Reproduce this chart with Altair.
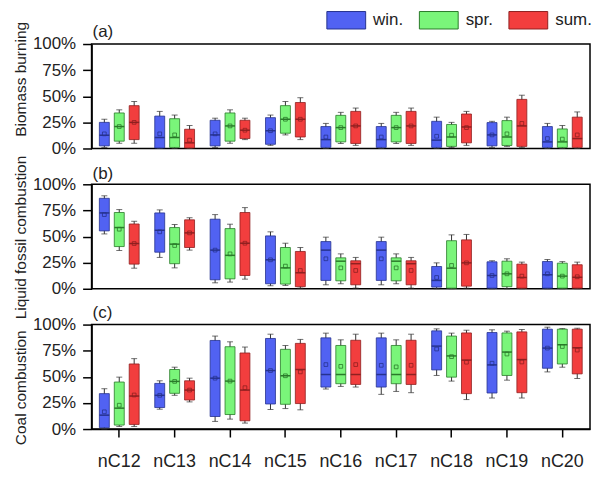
import altair as alt
import pandas as pd

categories = ["nC12", "nC13", "nC14", "nC15", "nC16", "nC17", "nC18", "nC19", "nC20"]
seasons = ["win.", "spr.", "sum."]
fill_colors = ["#5162F2", "#7AF57A", "#F23E3E"]
edge_colors = ["#26328F", "#2A7A2A", "#8F2020"]

# ---- (a) Biomass burning ----
bio_win = dict(lo=[1, 0, 1, 3, 0, 0, 0, 1, 0],
               q1=[2.5, 0.5, 2.5, 4, 1, 1, 1, 2.5, 1],
               med=[12.7, 10.5, 13, 17, 8.5, 8.5, 8, 13, 6.3],
               q3=[25, 31, 27, 29.5, 21, 21, 26, 24.8, 21],
               hi=[28, 35.5, 29, 32, 24, 24, 30, 26, 24],
               mean=[14, 14, 14, 17, 11, 11, 11.7, 13, 9.5])
bio_spr = dict(lo=[5, 0, 5, 13, 4.8, 4.8, 1, 2, 0],
               q1=[7, 1, 7, 14.6, 6.3, 6.3, 2, 2.9, 1],
               med=[21, 10.5, 21.6, 28, 20, 20, 11, 11, 6.3],
               q3=[34, 28.5, 34, 41, 31.7, 31.7, 23, 26.7, 18.7],
               hi=[37, 32, 37, 45, 34.6, 34.6, 25, 30, 22],
               mean=[21, 13, 21.6, 28, 20, 20, 12.7, 14, 9])
bio_sum = dict(lo=[5, 0, 8.5, 8.5, 3, 3, 3, 1, 0],
               q1=[8.5, 0.5, 9.5, 11, 4.8, 4.8, 5.4, 2, 1],
               med=[25, 5.4, 17.5, 28, 21.6, 21.6, 20.6, 21.6, 9.5],
               q3=[41, 18.4, 27, 44, 35.5, 35.5, 33, 47, 30],
               hi=[45, 22, 29, 48.6, 38.7, 38.7, 35.5, 51, 35],
               mean=[25, 8, 17.5, 28, 21.6, 21.6, 20, 24, 13])

# ---- (b) Liquid fossil combustion ----
liq_win = dict(lo=[52.5, 30, 5.7, 2.9, 3.8, 3.8, 0, 0, 0],
               q1=[55.4, 35, 8.6, 4.8, 8, 8, 1.6, 0.6, 0.6],
               med=[72.6, 56, 37, 27.7, 37, 37, 8, 12.7, 13.4],
               q3=[86.6, 72.6, 66.6, 50.6, 45.2, 45.2, 21.3, 25.8, 26.1],
               hi=[89, 75.5, 71, 54.5, 49.4, 49.4, 24.8, 26.8, 28],
               mean=[71, 54.5, 37, 27.7, 28.7, 28.7, 10.8, 12.7, 14.3])
liq_spr = dict(lo=[36.6, 20, 6.4, 3.2, 4.8, 4.8, 0, 0, 0],
               q1=[40.4, 24, 9.5, 4.5, 7.6, 7.6, 0.6, 2, 0.6],
               med=[58.6, 42.7, 32, 20, 26.4, 26.4, 19.7, 14.3, 12.1],
               q3=[73, 58.6, 57.6, 39.5, 29.6, 29.6, 46, 26.4, 24.5],
               hi=[75.8, 61.5, 61.8, 43.6, 33.4, 33.4, 51.6, 28.7, 26],
               mean=[57, 41.4, 33.4, 21.7, 20, 20, 22.3, 14.3, 12.1])
liq_sum = dict(lo=[19.7, 37, 9.2, 0.6, 0.6, 0.6, 0.6, 0, 0],
               q1=[23.6, 39.5, 12.7, 2, 3.8, 3.8, 2.5, 0.6, 0.6],
               med=[43.3, 53.5, 43.6, 15.3, 24, 24, 24.8, 10.8, 11],
               q3=[62, 66, 73, 35.7, 26.8, 26.8, 46.8, 23.6, 23],
               hi=[64.6, 68, 77.7, 39.5, 30, 30, 52, 25.5, 25.5],
               mean=[43.3, 53.5, 43.6, 17.5, 17.5, 17.5, 24.8, 12.1, 11.5])

# ---- (c) Coal combustion ----
coal_win = dict(lo=[0, 19, 7.3, 18.7, 38.3, 33.2, 51.3, 29.7, 54.7],
                q1=[1.3, 20.6, 12, 24, 40.2, 40.2, 56.6, 34.5, 58.2],
                med=[13.3, 32.3, 48.7, 56, 52.2, 52.2, 79.4, 61.4, 77.5],
                q3=[33.9, 43.7, 84.8, 86.7, 87.3, 87.3, 94, 92.4, 95.6],
                hi=[38.6, 46.2, 89, 90.8, 91.8, 91.8, 95.9, 95, 97.5],
                mean=[16.5, 32.3, 48.7, 56, 61.7, 61, 76.6, 63, 77.5])
coal_spr = dict(lo=[2.5, 32.3, 9.5, 19.6, 40.8, 36, 45.9, 46.8, 59.2],
                q1=[3.8, 34.2, 13.9, 23.7, 43.4, 43.4, 49.7, 51.3, 62.3],
                med=[20, 45.6, 45.9, 51, 52.2, 52.2, 70, 73.7, 80.7],
                q3=[45, 57, 78.8, 76.3, 80, 80, 89, 92, 95.6],
                hi=[49.7, 59.2, 83.5, 80, 85.4, 85.4, 91.8, 93.7, 96.2],
                mean=[22.8, 45.6, 45.9, 51, 60, 59.5, 69.3, 71.8, 79])
coal_sum = dict(lo=[2.5, 26, 5.7, 18.4, 40.2, 34.8, 28.2, 29.7, 48.4],
                q1=[4.4, 27.8, 7.9, 24.4, 42.7, 42.7, 33.9, 34.8, 52.8],
                med=[31.6, 37.3, 37.3, 57, 52.2, 52.2, 66, 66.5, 77.8],
                q3=[62.3, 46.2, 72.8, 82, 85, 85, 92, 93, 95.6],
                hi=[67.4, 48.7, 78.5, 85.8, 90.8, 90.8, 94.6, 95.3, 96.5],
                mean=[32.6, 37.3, 39.6, 54.7, 61.7, 61, 64, 64.2, 75.6])

y_ticks = [0, 25, 50, 75, 100]
FONT = "Liberation Sans"


def to_frame(groups):
    rows = []
    for season, g in zip(seasons, groups):
        for i, cat in enumerate(categories):
            rows.append(dict(cat=cat, season=season, lo=g["lo"][i], q1=g["q1"][i],
                             med=g["med"][i], q3=g["q3"][i], hi=g["hi"][i], mean=g["mean"][i]))
    return pd.DataFrame(rows)


def panel(groups, letter, ytitle, title_y, title_dy, show_x, show_legend):
    df = to_frame(groups)
    if show_x:
        xaxis = alt.Axis(title=None, labelFontSize=18, labelPadding=16, tickSize=8,
                         labelAngle=0, domain=True)
    else:
        xaxis = None
    yscale = alt.Scale(domain=[0, 100], nice=False, zero=True)
    yaxis = alt.Axis(values=y_ticks, tickCount=5, labelExpr="datum.value + '%'", title=ytitle,
                     titleFontSize=15.5, titleFontWeight="normal", titleY=title_y,
                     titlePadding=4, labelFontSize=17, labelPadding=7, tickSize=9, grid=False,
                     labelOverlap=False, labelFlush=False)

    def Y(field):
        return alt.Y(field, type="quantitative", scale=yscale, axis=yaxis)

    base = alt.Chart(df).encode(
        x=alt.X("cat:N", sort=categories, axis=xaxis,
                scale=alt.Scale(paddingInner=0, paddingOuter=0)),
        xOffset=alt.XOffset("season:N", sort=seasons,
                            scale=alt.Scale(paddingInner=0, paddingOuter=0.356)),
    )
    if show_legend:
        legend = alt.Legend(orient="none", legendX=236, legendY=-44, direction="horizontal",
                            title=None, symbolType="M-1,-0.45L1,-0.45L1,0.45L-1,0.45Z",
                            symbolSize=1521, symbolStrokeColor="#555", symbolStrokeWidth=1,
                            symbolOpacity=1, labelFontSize=17, labelOffset=7,
                            columnPadding=13, labelColor="#222")
    else:
        legend = None
    whisker = base.mark_rule(color="#333", strokeWidth=1).encode(y=Y("lo"), y2="hi:Q")
    cap_hi = base.mark_tick(size=6, thickness=1, color="#333").encode(y=Y("hi"))
    cap_lo = base.mark_tick(size=6, thickness=1, color="#333").encode(y=Y("lo"))
    box = base.mark_bar(size=10, strokeWidth=0.8, opacity=1).encode(
        y=Y("q1"), y2="q3:Q",
        fill=alt.Fill("season:N", sort=seasons,
                      scale=alt.Scale(domain=seasons, range=fill_colors), legend=legend),
        stroke=alt.Stroke("season:N", scale=alt.Scale(domain=seasons, range=edge_colors),
                          legend=None),
    )
    med = base.mark_tick(size=10, thickness=1.5, opacity=1).encode(
        y=Y("med"),
        color=alt.Color("season:N", scale=alt.Scale(domain=seasons, range=edge_colors),
                        legend=None))
    mean = base.mark_point(shape="square", filled=False, size=14, strokeWidth=0.8,
                           opacity=1).encode(
        y=Y("mean"),
        color=alt.Color("season:N", scale=alt.Scale(domain=seasons, range=edge_colors),
                        legend=None))
    return alt.layer(whisker, cap_hi, cap_lo, box, med, mean).properties(
        width=501, height=105,
        title=alt.TitleParams(letter, anchor="start", frame="group", fontSize=17,
                              fontWeight="normal", offset=2, dx=1, dy=title_dy, color="#222"),
    )


pa = panel([bio_win, bio_spr, bio_sum], "(a)", "Biomass burning", 35, 22, False, True)
pb = panel([liq_win, liq_spr, liq_sum], "(b)", "Liquid fossil combustion", 53, 30, False, False)
pc = panel([coal_win, coal_spr, coal_sum], "(c)", "Coal combustion", 63, 8, True, False)

chart = alt.vconcat(pa, pb, pc, spacing=36, bounds="flush").resolve_scale(
    fill="shared", stroke="shared", color="shared").resolve_legend(fill="shared").properties(
    padding={"left": 4, "top": -9, "right": 0, "bottom": 5}
).configure(font=FONT).configure_view(
    stroke="black", strokeWidth=1.5
).configure_axis(
    domainColor="black", domainWidth=1.5, tickColor="black", tickWidth=1.5,
    labelColor="#222", titleColor="#222", labelFont=FONT, titleFont=FONT
).configure_legend(labelFont=FONT)

chart.save("out.html", embed_options={"renderer": "svg", "actions": False})
